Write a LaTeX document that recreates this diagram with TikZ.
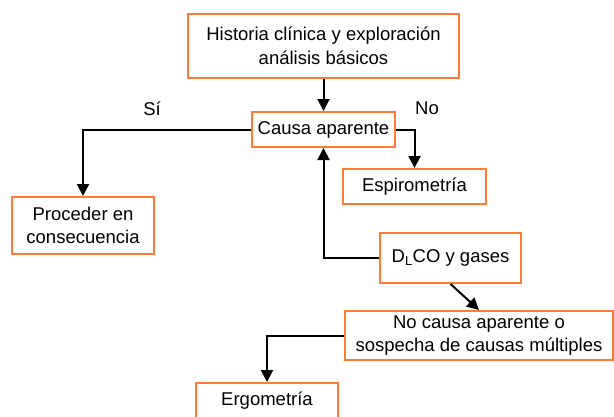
\documentclass[tikz,border=0pt]{standalone}
\usepackage{fontspec}
\setmainfont{Liberation Sans}
\usepackage{tikz}
\usetikzlibrary{arrows.meta, positioning}
\definecolor{boxorange}{RGB}{255,122,51}

\tikzset{
  box/.style={draw=boxorange, line width=2pt, fill=white, inner sep=0pt,
              align=center, font=\fontsize{18.5}{23.5}\selectfont},
  lbl/.style={font=\fontsize{18.5}{23.5}\selectfont}
}

\begin{document}
\begin{tikzpicture}[->,>={Triangle[width=12pt,length=12pt]},x=1pt,y=-1pt,line width=2pt]
  \useasboundingbox (0,0) rectangle (614,416);
  \node[box,minimum width=271pt,minimum height=64pt] (hist)   at (323.5,46)  {Historia clínica y exploración\\análisis básicos};
  \node[box,minimum width=143pt,minimum height=35pt] (causa)  at (323.5,129.5) {Causa aparente};
  \node[box,minimum width=143pt,minimum height=35pt] (espiro) at (414.5,186.5) {Espirometría};
  \node[box,minimum width=142pt,minimum height=57pt] (proc)   at (83,225.5)  {Proceder en\\consecuencia};
  \node[box,minimum width=141pt,minimum height=50pt] (dlco)   at (450.5,258) {D\textsubscript{L}CO y gases};
  \node[box,minimum width=268pt,minimum height=49pt] (nocausa) at (479,335.5) {No causa aparente o\\sospecha de causas múltiples};
  \node[box,minimum width=142pt,minimum height=35pt] (ergo)   at (267,400.5) {Ergometría};

  \node[lbl] (si) at (152,109) {Sí};
  \node[lbl] (no) at (427,108) {No};

  \draw (hist)  -- (causa);
  \draw (causa.east) -| (espiro.north);
  \draw (causa.west) -| (proc.north);
  \draw (dlco.west)  -| (causa.south);
  \draw (dlco.south) -- (nocausa.north);
  \draw (nocausa.west) -| (ergo.north);
\end{tikzpicture}
\end{document}
